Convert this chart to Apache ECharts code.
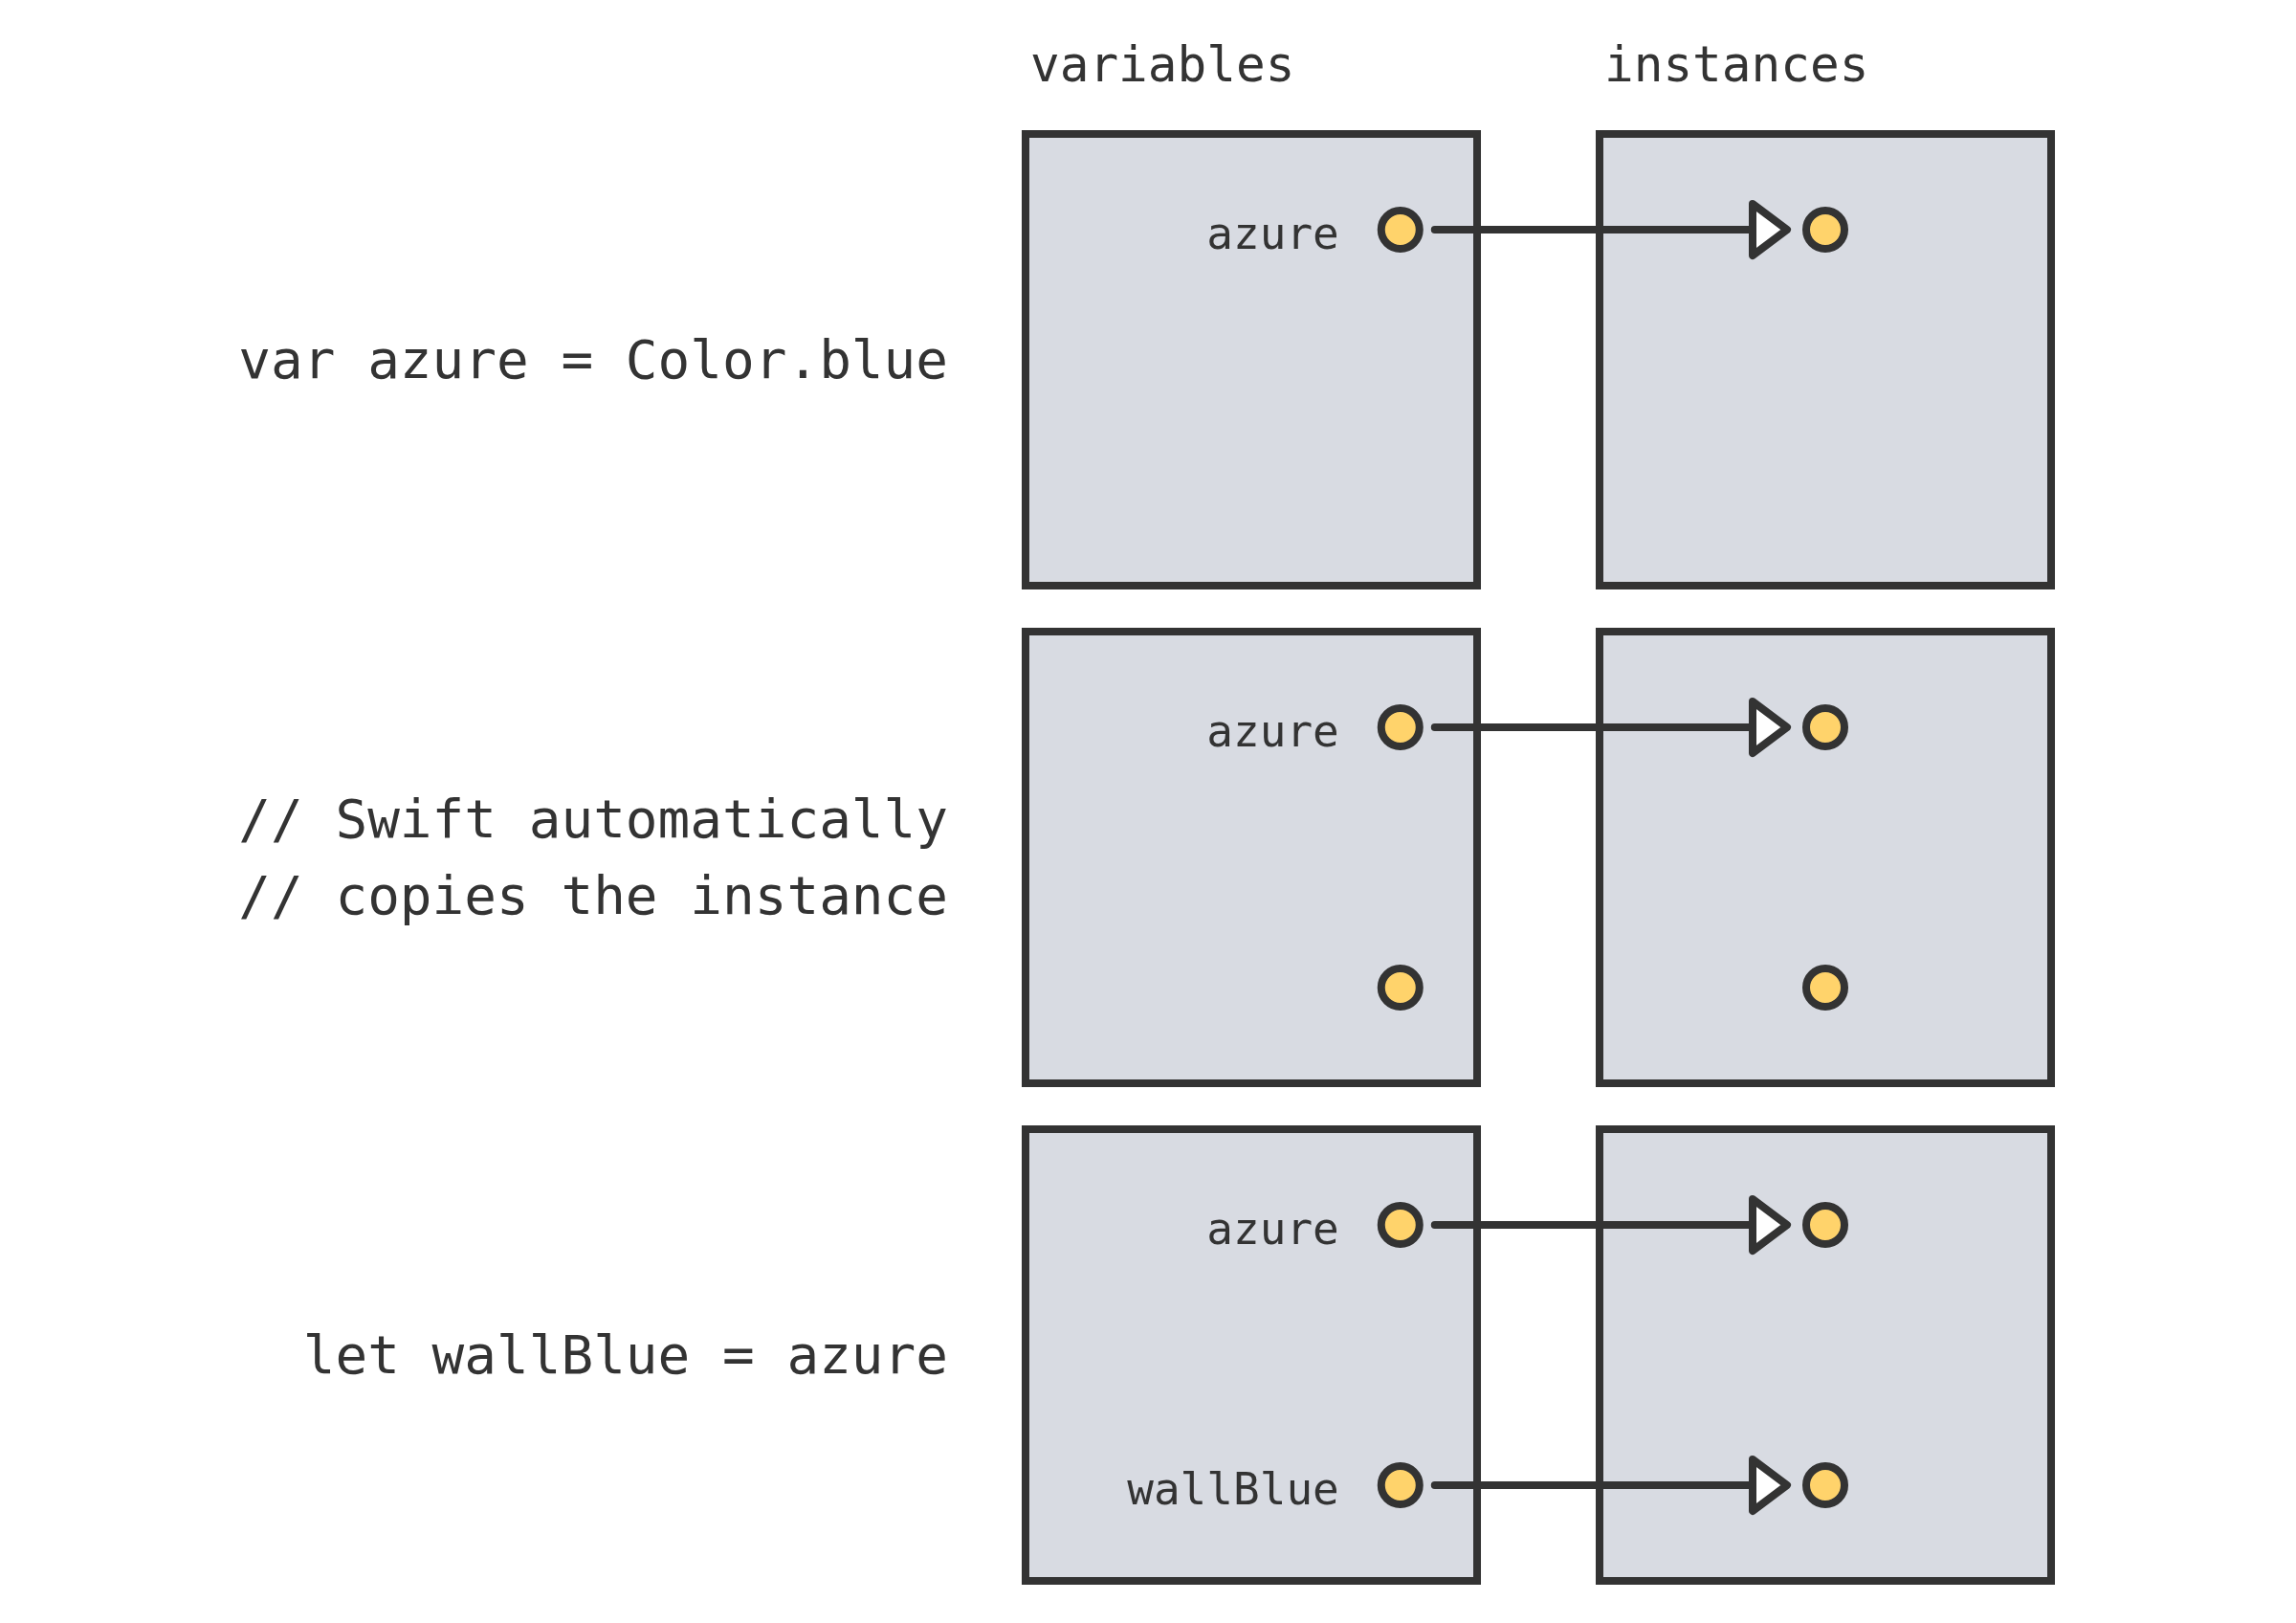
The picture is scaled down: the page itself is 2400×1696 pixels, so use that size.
<!DOCTYPE html>
<html>
<head>
<meta charset="utf-8">
<script src="https://cdn.jsdelivr.net/npm/echarts@6/dist/echarts.min.js"></script>
<style>
html, body { margin: 0; padding: 0; background: #fff; }
#chart { width: 2400px; height: 1696px; }
</style>
</head>
<body>
<div id="chart"></div>
<script>
'use strict';

var columns = ['variables', 'instances'];
var rows = [
    'var azure = Color.blue',
    '// Swift automatically\n// copies the instance',
    'let wallBlue = azure'
];

// one entry per reference: row, slot in the box (0 top, 1 bottom), name, arrow drawn
var refRows = [0, 1, 1, 2, 2];
var refSlots = [0, 0, 1, 0, 1];
var refNames = ['azure', 'azure', '', 'azure', 'wallBlue'];
var refArrows = [true, true, false, true, true];

var INK = '#333333',
    BOX_FILL = '#d8dbe2',
    DOT_FILL = '#ffd36b',
    MONO = '"DejaVu Sans Mono", "Liberation Mono", monospace',
    BOX = 0.7867;   // box side as a share of the column band

var boxData = [];
rows.forEach(function (r, ri) {
    columns.forEach(function (c, ci) {
        boxData.push([ci, ri]);
    });
});

function boxSide(api) {
    return api.size([1, 1])[0] * BOX;
}

function renderBox(params, api) {
    var c = api.coord([api.value(0), api.value(1)]);
    var s = boxSide(api);
    return {
        type: 'rect',
        shape: { x: c[0] - s / 2, y: c[1] - s / 2, width: s, height: s },
        style: { fill: BOX_FILL, stroke: INK, lineWidth: 8 }
    };
}

function renderHeader(params, api) {
    var c = api.coord([api.value(0), 0]);
    var s = boxSide(api);
    return {
        type: 'text',
        style: {
            text: columns[params.dataIndex],
            x: c[0] - s / 2 + 5,
            y: c[1] - s / 2 - 68,
            align: 'left',
            verticalAlign: 'middle',
            fontSize: 51,
            fontFamily: MONO,
            fill: INK
        }
    };
}

function dot(x, y) {
    return {
        type: 'circle',
        shape: { cx: x, cy: y, r: 20 },
        style: { fill: DOT_FILL, stroke: INK, lineWidth: 8 },
        z2: 3
    };
}

function renderRef(params, api) {
    var i = params.dataIndex;
    var row = refRows[i];
    var v = api.coord([0, row]),
        n = api.coord([1, row]);
    var s = boxSide(api);
    var y = v[1] + (refSlots[i] ? 1 : -1) * s * 0.288;
    var vx = v[0] + s * 0.33,
        nx = n[0];
    var children = [];

    if (refArrows[i]) {
        children.push({
            type: 'line',
            shape: { x1: vx + 36, y1: y, x2: nx - 76, y2: y },
            style: { stroke: INK, lineWidth: 8, lineCap: 'round' },
            z2: 1
        });
        children.push({
            type: 'polygon',
            shape: { points: [[nx - 76, y - 27], [nx - 40, y], [nx - 76, y + 27]] },
            style: { fill: '#ffffff', stroke: INK, lineWidth: 8, lineJoin: 'round' },
            z2: 2
        });
    }

    children.push(dot(vx, y));
    children.push(dot(nx, y));

    if (refNames[i]) {
        children.push({
            type: 'text',
            style: {
                text: refNames[i],
                x: vx - 64,
                y: y + 8,
                align: 'right',
                verticalAlign: 'middle',
                fontSize: 46,
                fontFamily: MONO,
                fill: INK
            },
            z2: 3
        });
    }

    return { type: 'group', children: children };
}

var chart = echarts.init(document.getElementById('chart'), null, { renderer: 'canvas' });

chart.setOption({
    animation: false,
    backgroundColor: '#ffffff',
    grid: {
        left: 1008,
        right: 192,
        top: 116,
        bottom: 20,
        containLabel: false,
        outerBoundsMode: 'none'
    },
    xAxis: {
        type: 'category',
        data: columns,
        show: false
    },
    yAxis: {
        type: 'category',
        data: rows,
        inverse: true,
        axisLine: { show: false },
        axisTick: { show: false },
        splitLine: { show: false },
        axisLabel: {
            margin: 17,
            align: 'right',
            color: INK,
            // each code line sits a little below the row centre
            formatter: function (value) {
                return value.split('\n').map(function (l) {
                    return '{code|' + l + '}';
                }).join('\n');
            },
            rich: {
                code: {
                    fontSize: 56,
                    lineHeight: 80,
                    padding: [8, 0, 0, 0],
                    fontFamily: MONO,
                    color: INK,
                    align: 'right'
                }
            }
        }
    },
    series: [
        {
            type: 'custom',
            clip: false,
            renderItem: renderBox,
            data: boxData,
            z: 1
        },
        {
            type: 'custom',
            clip: false,
            renderItem: renderHeader,
            data: columns.map(function (c, ci) { return [ci, 0]; }),
            z: 2
        },
        {
            type: 'custom',
            clip: false,
            renderItem: renderRef,
            data: refRows.map(function (r, i) { return [0, r]; }),
            z: 3
        }
    ]
});
</script>
</body>
</html>
